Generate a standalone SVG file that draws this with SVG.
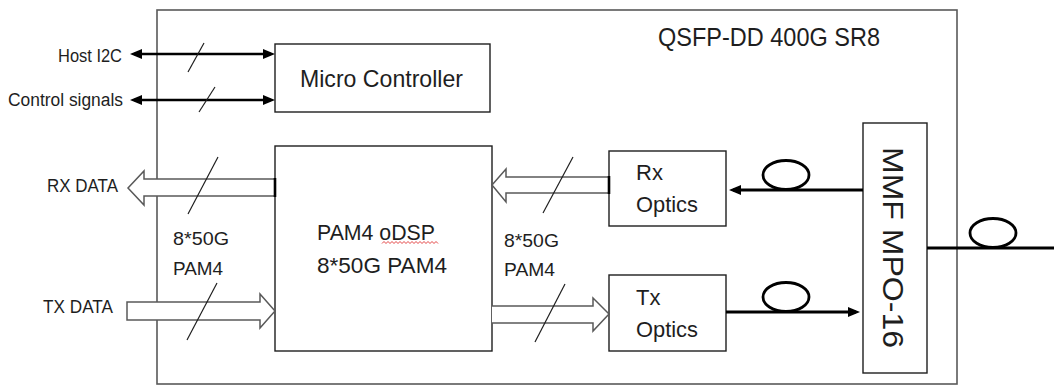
<svg xmlns="http://www.w3.org/2000/svg" width="1054" height="385" viewBox="0 0 1054 385">
  <style>
    .txt { font-family: "Liberation Sans", Arial, sans-serif; fill: #1e1e1e; }
    .box { fill: #ffffff; stroke: #1e1e1e; stroke-width: 1.4; }
    .frame { fill: #ffffff; stroke: #595959; stroke-width: 1.6; }
    .sig { stroke: #000; stroke-width: 2.6; fill: none; }
    .slash { stroke: #1e1e1e; stroke-width: 1.2; fill: none; }
    .bus { fill: #ffffff; stroke: #595959; stroke-width: 1.5; stroke-linejoin: miter; }
    .busend { stroke: #000; stroke-width: 2.6; }
    .fiber { stroke: #000; stroke-width: 2.8; fill: none; }
  </style>
  <defs>
    <marker id="ah" markerUnits="userSpaceOnUse" markerWidth="12" markerHeight="12" viewBox="0 0 12 12" refX="8" refY="6" orient="auto-start-reverse">
      <path d="M0,1 L12,6 L0,11 Z" fill="#000"/>
    </marker>
  </defs>

  <g id="module">
    <rect class="frame" x="157" y="10" width="800" height="374"/>
    <text class="txt" x="658" y="46" font-size="25" textLength="222" lengthAdjust="spacingAndGlyphs">QSFP-DD 400G SR8</text>
  </g>

  <g id="micro-controller">
    <rect class="box" x="275" y="44" width="215" height="68"/>
    <text class="txt" x="300" y="87" font-size="24" textLength="163" lengthAdjust="spacingAndGlyphs">Micro Controller</text>
  </g>

  <g id="dsp">
    <rect class="box" x="275" y="146" width="217" height="205"/>
    <text class="txt" x="317" y="240" font-size="22" textLength="118" lengthAdjust="spacingAndGlyphs">PAM4 oDSP</text>
    <path d="M382,243.5 l2,-2 l2,2 l2,-2 l2,2 l2,-2 l2,2 l2,-2 l2,2 l2,-2 l2,2 l2,-2 l2,2 l2,-2 l2,2 l2,-2 l2,2 l2,-2 l2,2 l2,-2 l2,2 l2,-2 l2,2 l2,-2 l2,2 l2,-2 l2,2 l2,-2 l2,2" fill="none" stroke="#e03030" stroke-width="0.9"/>
    <text class="txt" x="317" y="273" font-size="22" textLength="130" lengthAdjust="spacingAndGlyphs">8*50G PAM4</text>
  </g>

  <g id="rx-optics">
    <rect class="box" x="609" y="151" width="117" height="75"/>
    <text class="txt" x="636" y="180" font-size="22">Rx</text>
    <text class="txt" x="636" y="212" font-size="22" textLength="62" lengthAdjust="spacingAndGlyphs">Optics</text>
  </g>

  <g id="tx-optics">
    <rect class="box" x="609" y="275" width="117" height="76"/>
    <text class="txt" x="636" y="305" font-size="22">Tx</text>
    <text class="txt" x="636" y="337" font-size="22" textLength="62" lengthAdjust="spacingAndGlyphs">Optics</text>
  </g>

  <g id="mpo">
    <rect class="box" x="863" y="123" width="64" height="250"/>
    <text class="txt" transform="translate(883,147) rotate(90)" x="0" y="0" font-size="30" textLength="201" lengthAdjust="spacingAndGlyphs">MMF MPO-16</text>
  </g>

  <g id="labels">
    <text class="txt" x="58" y="62" font-size="18" textLength="64" lengthAdjust="spacingAndGlyphs">Host I2C</text>
    <text class="txt" x="8" y="106" font-size="18" textLength="115" lengthAdjust="spacingAndGlyphs">Control signals</text>
    <text class="txt" x="47" y="192" font-size="18" textLength="71" lengthAdjust="spacingAndGlyphs">RX DATA</text>
    <text class="txt" x="43" y="313" font-size="18" textLength="70" lengthAdjust="spacingAndGlyphs">TX DATA</text>
    <text class="txt" x="173" y="245" font-size="19" textLength="56" lengthAdjust="spacingAndGlyphs">8*50G</text>
    <text class="txt" x="173" y="275" font-size="19" textLength="50" lengthAdjust="spacingAndGlyphs">PAM4</text>
    <text class="txt" x="504" y="247" font-size="19" textLength="55" lengthAdjust="spacingAndGlyphs">8*50G</text>
    <text class="txt" x="504" y="276" font-size="19" textLength="51" lengthAdjust="spacingAndGlyphs">PAM4</text>
  </g>

  <g id="connectors">
    <!-- control buses -->
    <line class="sig" x1="134" y1="54" x2="271" y2="54" marker-start="url(#ah)" marker-end="url(#ah)"/>
    <line class="sig" x1="134" y1="100" x2="271" y2="100" marker-start="url(#ah)" marker-end="url(#ah)"/>
    <line class="slash" x1="188" y1="72" x2="204" y2="43"/>
    <line class="slash" x1="199" y1="112" x2="215" y2="87"/>

    <!-- RX DATA (host side) -->
    <path class="bus" d="M275,179 L144,179 L144,171 L128,188 L144,205 L144,196 L275,196"/>
    <line class="busend" x1="275" y1="178" x2="275" y2="197"/>
    <line class="slash" x1="188" y1="214" x2="218" y2="157"/>

    <!-- TX DATA (host side) -->
    <path class="bus" d="M127,302 L260,302 L260,294 L275,311 L260,328 L260,320 L127,320 Z"/>
    <line class="slash" x1="187" y1="340" x2="217" y2="283"/>

    <!-- RX electrical (optics to DSP) -->
    <path class="bus" d="M609,177 L506,177 L506,169 L492,185 L506,202 L506,193 L609,193"/>
    <line class="busend" x1="609" y1="176" x2="609" y2="194"/>
    <line class="slash" x1="543" y1="213" x2="573" y2="157"/>

    <!-- TX electrical (DSP to optics) -->
    <path class="bus" d="M492,306 L593,306 L593,298 L609,314 L593,331 L593,323 L492,323"/>
    <line class="slash" x1="535" y1="342" x2="565" y2="284"/>

    <!-- fibers -->
    <line class="fiber" x1="863" y1="190" x2="733" y2="190" marker-end="url(#ah)"/>
    <ellipse class="fiber" cx="786" cy="175" rx="23" ry="14.5"/>
    <line class="fiber" x1="726" y1="312" x2="856" y2="312" marker-end="url(#ah)"/>
    <ellipse class="fiber" cx="786" cy="297" rx="23" ry="14.5"/>
    <line class="fiber" x1="927" y1="248" x2="1054" y2="248"/>
    <ellipse class="fiber" cx="993" cy="233" rx="23" ry="14.5"/>
  </g>
</svg>
